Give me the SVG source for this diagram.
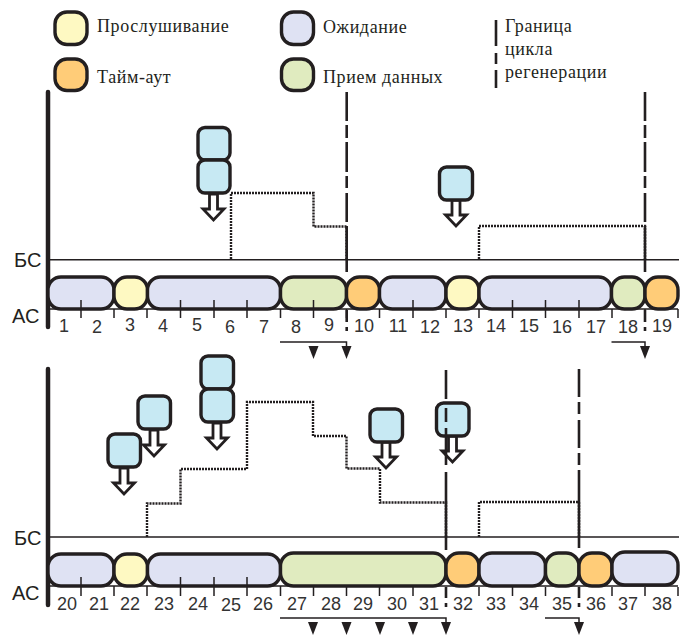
<svg xmlns="http://www.w3.org/2000/svg" width="686" height="635" viewBox="0 0 686 635">
<style>
.s{stroke:#231f20;stroke-width:3.4}
.y{fill:#fef9c2}.b{fill:#dfe2f3}.g{fill:#e0ebbf}.o{fill:#ffcc78}.c{fill:#c7e9f3}
.t{stroke:#231f20;stroke-width:1.5;fill:none}
.d{stroke:#231f20;stroke-width:2.4;stroke-dasharray:2 1;fill:none}
.v{stroke:#231f20;stroke-width:2.6;fill:none}
.a{fill:#fff;stroke:#231f20;stroke-width:2.8}
.h{fill:#231f20}
.l{font:18px "Liberation Serif",serif;letter-spacing:.6px;fill:#231f20}
.n{font:18px "Liberation Sans",sans-serif;fill:#333;text-anchor:middle}
.x{font:20px "Liberation Sans",sans-serif;fill:#231f20}
</style>
<defs>
<path id="arr" class="a" d="M-4,0V15H-10.500L0,26L10.500,15H4V0Z"/>
<path id="ah" class="h" d="M-5,0H5L0,13Z"/>
</defs>
<g id="legend">
<g id="legend-listen"><rect class="s y" x="55" y="12" width="32" height="32.500" rx="12"/><text class="l" x="97" y="32">Прослушивание</text></g>
<g id="legend-wait"><rect class="s b" x="281.500" y="12" width="32" height="32.500" rx="12"/><text class="l" x="323" y="33">Ожидание</text></g>
<g id="legend-timeout"><rect class="s o" x="55" y="59" width="32" height="31.500" rx="12"/><text class="l" x="97" y="83">Тайм-аут</text></g>
<g id="legend-rx"><rect class="s g" x="281.500" y="59" width="32" height="31.500" rx="12"/><text class="l" x="323" y="83">Прием данных</text></g>
<g id="legend-boundary"><path class="v" d="M496,20V46M496,53V64M496,70V88"/><text class="l" x="505" y="32">Граница</text><text class="l" x="505" y="55">цикла</text><text class="l" x="505" y="78">регенерации</text></g>
</g>
<g id="connectors">
<path d="M48,92V327M48,369V605" stroke="#231f20" stroke-width="4.500" stroke-linecap="round" fill="none"/>
<path class="t" d="M48,259.700H679M48,537H679"/>
<path class="d" d="M231,259V193H313.500V226.500H346.500V259M479,259V226H645V259"/>
<path class="d" d="M147,537V503.500H180.500V469H247V402H313V436H346.500V468.500H380V502.500H446V537M479,537V502H579V537"/>
<path class="t" d="M280,342H346.500V346M611.500,342H645V346M280,618H446V622M545,618H579V622"/>
<g>
<use href="#ah" x="313.500" y="346"/><use href="#ah" x="346.500" y="346"/><use href="#ah" x="645" y="346"/>
<use href="#ah" x="313" y="622"/><use href="#ah" x="346.500" y="622"/><use href="#ah" x="380" y="622"/><use href="#ah" x="413" y="622"/><use href="#ah" x="446" y="622"/><use href="#ah" x="579" y="622"/>
</g>
</g>
<g id="slots-row1">
<rect class="s b" x="48" y="277" width="66" height="32" rx="13"/>
<rect class="s y" x="114" y="277" width="33.500" height="32" rx="13"/>
<rect class="s b" x="147.500" y="277" width="133" height="32" rx="13"/>
<rect class="s g" x="280.500" y="277" width="66" height="32" rx="13"/>
<rect class="s o" x="346.500" y="277" width="33" height="32" rx="13"/>
<rect class="s b" x="379.500" y="277" width="66.500" height="32" rx="13"/>
<rect class="s y" x="446" y="277" width="33" height="32" rx="13"/>
<rect class="s b" x="479" y="277" width="132.500" height="32" rx="13"/>
<rect class="s g" x="611.500" y="277" width="33.500" height="32" rx="13"/>
<rect class="s o" x="645" y="277" width="33" height="32" rx="13"/>
<path class="t" d="M48,309H678M81,300V318M114,309V318M147,309V318M180.500,300V318M214,300V318M247,300V318M280.500,309V318M313.500,300V318M346.500,309V318M379.500,309V318M413,300V318M446,309V318M479,309V318M512.500,300V318M545.500,300V318M579,300V318M612,309V318M645,309V318M678,309V318"/>
<text class="n" x="64" y="332">1</text><text class="n" x="97" y="333">2</text><text class="n" x="130" y="331">3</text><text class="n" x="163" y="332">4</text><text class="n" x="197" y="331">5</text><text class="n" x="230" y="333">6</text><text class="n" x="264" y="333">7</text><text class="n" x="296" y="333">8</text><text class="n" x="329" y="331">9</text>
<text class="n" x="364" y="332">10</text><text class="n" x="398" y="332">11</text><text class="n" x="430" y="333">12</text><text class="n" x="463" y="332">13</text><text class="n" x="496" y="332">14</text><text class="n" x="529" y="332">15</text><text class="n" x="562" y="333">16</text><text class="n" x="596" y="333">17</text><text class="n" x="628" y="333">18</text><text class="n" x="662" y="332">19</text>
</g>
<g id="slots-row2">
<rect class="s b" x="48" y="554" width="66" height="32" rx="13"/>
<rect class="s y" x="114" y="554" width="33.500" height="32" rx="13"/>
<rect class="s b" x="147.500" y="554" width="133" height="32" rx="13"/>
<rect class="s g" x="280.500" y="553" width="165.500" height="33" rx="13"/>
<rect class="s o" x="446" y="553" width="33" height="33" rx="13"/>
<rect class="s b" x="479" y="553" width="66.500" height="33" rx="13"/>
<rect class="s g" x="545.500" y="553" width="33.500" height="33" rx="13"/>
<rect class="s o" x="579" y="553" width="33" height="33" rx="13"/>
<rect class="s b" x="612" y="552" width="66" height="33" rx="13"/>
<path class="t" d="M48,586H678M81,577V596M114,586V596M147,586V596M180.500,577V596M214,577V596M247,577V596M280.500,586V596M313.500,587V596M346.500,587V596M379.500,587V596M413,587V596M446,587V596M479,587V596M512.500,587V596M545.500,587V596M579,587V596M612,587V596M645,587V596M678,587V596"/>
<text class="n" x="67" y="610">20</text><text class="n" x="99" y="610">21</text><text class="n" x="130" y="610">22</text><text class="n" x="164" y="610">23</text><text class="n" x="198" y="610">24</text><text class="n" x="231" y="611">25</text><text class="n" x="263" y="610">26</text><text class="n" x="297" y="610">27</text><text class="n" x="331" y="610">28</text><text class="n" x="363" y="610">29</text><text class="n" x="397" y="610">30</text><text class="n" x="429" y="610">31</text><text class="n" x="463" y="610">32</text><text class="n" x="496" y="610">33</text><text class="n" x="529" y="610">34</text><text class="n" x="562" y="610">35</text><text class="n" x="596" y="610">36</text><text class="n" x="628" y="610">37</text><text class="n" x="662" y="610">38</text>
</g>
<g id="frames-row1">
<g id="frame-a"><use href="#arr" x="213.500" y="194"/><rect class="s c" x="198" y="127.500" width="32" height="32.500" rx="7"/><rect class="s c" x="198" y="160" width="32" height="33" rx="7"/></g>
<g id="frame-b"><use href="#arr" x="456" y="200"/><rect class="s c" x="439.500" y="167" width="33" height="33" rx="7"/></g>
</g>
<g id="frames-row2">
<g id="frame-c"><use href="#arr" x="217" y="423"/><rect class="s c" x="201" y="356" width="32.500" height="33" rx="7"/><rect class="s c" x="201" y="389" width="32.500" height="33" rx="7"/></g>
<g id="frame-d"><use href="#arr" x="154" y="430"/><rect class="s c" x="138" y="396" width="32.500" height="33" rx="7"/></g>
<g id="frame-e"><use href="#arr" x="124" y="468"/><rect class="s c" x="108" y="434" width="32.500" height="33" rx="7"/></g>
<g id="frame-f"><use href="#arr" x="386" y="442"/><rect class="s c" x="370" y="409" width="32.500" height="33" rx="7"/></g>
<g id="frame-g"><use href="#arr" x="452.500" y="436"/><rect class="s c" x="436.500" y="403" width="32.500" height="33" rx="7"/></g>
</g>
<g id="boundaries">
<path class="v" d="M346.700,92V121M346.700,125V138M346.700,142V172M346.700,176V188M346.700,193V222M346.700,226V272M346.700,310V322M346.700,327V331"/>
<path class="v" d="M645,92V121M645,125V138M645,142V172M645,176V188M645,193V222M645,226V272M645,310V322M645,327V331"/>
<path class="v" d="M446,370V399M446,408V422M446,428V465M446,472V550M446,587V598M446,603V607"/>
<path class="v" d="M579,369V397M579,402V414M579,420V448M579,453V465M579,470V548M579,587V598M579,603V607"/>
</g>
<g id="axis-labels">
<text class="x" x="14" y="267">БС</text><text class="x" x="12" y="323">АС</text><text class="x" x="14" y="545">БС</text><text class="x" x="12" y="600">АС</text>
</g>
</svg>
